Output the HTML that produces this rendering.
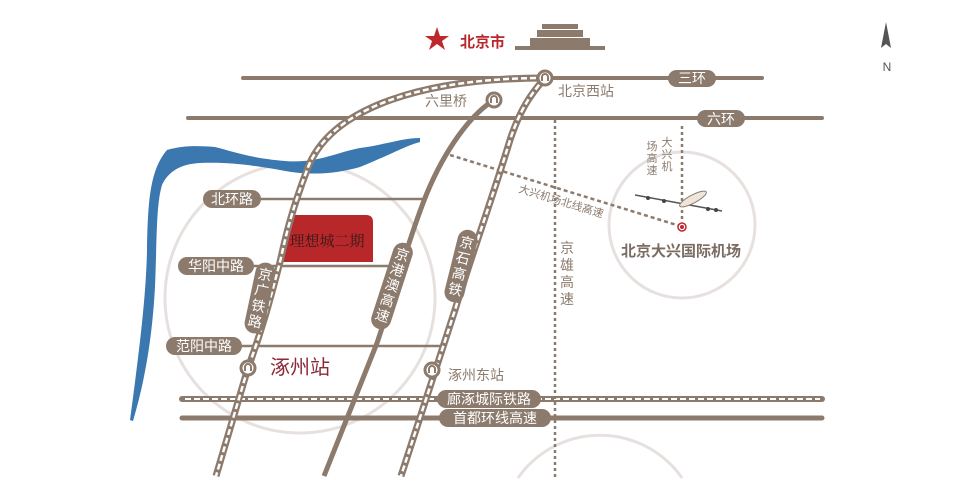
<!DOCTYPE html>
<html><head><meta charset="utf-8"><style>
html,body{margin:0;padding:0;background:#fff;width:960px;height:480px;overflow:hidden;}
svg{display:block;font-family:"Liberation Sans","Noto Sans CJK SC",sans-serif;}
</style></head><body>
<svg width="960" height="480" viewBox="0 0 960 480" xmlns="http://www.w3.org/2000/svg">
<defs>
<g id="stn"><circle r="7" fill="#fff" stroke="#8c7b6d" stroke-width="3"/><path d="M-3,3 V-1 A3,3 0 0 1 3,-1 V3" fill="none" stroke="#8c7b6d" stroke-width="2"/></g>
</defs>
<circle cx="300" cy="298" r="135" fill="none" stroke="#e6e1de" stroke-width="3"/>
<circle cx="682" cy="225" r="73" fill="none" stroke="#e6e1de" stroke-width="3"/>
<path d="M518,478 A100,100 0 0 1 682,478" fill="none" stroke="#e6e1de" stroke-width="3"/>

<path d="M130,420 C138,360 146,300 147,250 C148,200 150,170 167,150 C185,145 200,146 215,147 C235,152 250,158 285,161 C320,164 340,150 367,147 C390,143 405,138 420,138 L420,142 C405,146 390,155 360,167 C335,174 310,176 280,170 C250,165 230,162 200,163 C180,164 168,172 162,185 C156,205 157,240 155,287 C152,340 145,380 133,421 Z" fill="#3b78b0"/>

<line x1="243" y1="78" x2="762" y2="78" stroke="#8c7b6d" stroke-width="4" stroke-linecap="round"/>
<line x1="188" y1="118" x2="822" y2="118" stroke="#8c7b6d" stroke-width="4" stroke-linecap="round"/>
<line x1="205" y1="199" x2="425" y2="199" stroke="#8c7b6d" stroke-width="2.5"/>
<line x1="180" y1="266" x2="400" y2="266" stroke="#8c7b6d" stroke-width="2.5"/>
<line x1="168" y1="346" x2="445" y2="346" stroke="#8c7b6d" stroke-width="2.5"/>
<line x1="182" y1="418" x2="822" y2="418" stroke="#8c7b6d" stroke-width="5" stroke-linecap="round"/>
<line x1="182" y1="399" x2="822" y2="399" stroke="#8c7b6d" stroke-width="6" stroke-linecap="round"/>
<line x1="185" y1="399" x2="820" y2="399" stroke="#fff" stroke-width="2" stroke-dasharray="6,3"/>

<line x1="555" y1="120" x2="555" y2="478" stroke="#8c7b6d" stroke-width="2.5" stroke-dasharray="3,3"/>
<line x1="682" y1="126" x2="682" y2="222" stroke="#8c7b6d" stroke-width="2.5" stroke-dasharray="3,3"/>
<line x1="450" y1="155" x2="680" y2="226" stroke="#8c7b6d" stroke-width="2.5" stroke-dasharray="4,3"/>

<path d="M292,215 H366 Q373,215 373,222 V262 H283 Z" fill="#b82729"/>
<text x="327" y="246" font-size="15" text-anchor="middle" fill="#3a1a1a" font-family="Liberation Serif,'Noto Serif CJK SC',serif">理想城二期</text>

<path d="M545,78 C430,78 330,105 307,170 C290,215 285,240 280,262 C270,300 262,330 248,368 L216,476" fill="none" stroke="#8c7b6d" stroke-width="7"/>
<path d="M545,78 C430,78 330,105 307,170 C290,215 285,240 280,262 C270,300 262,330 248,368 L216,476" fill="none" stroke="#fff" stroke-width="2.5" stroke-dasharray="6,3"/>
<path d="M545,78 C530,95 520,110 510,140 C495,190 470,260 455,310 L401,476" fill="none" stroke="#8c7b6d" stroke-width="7"/>
<path d="M545,78 C530,95 520,110 510,140 C495,190 470,260 455,310 L401,476" fill="none" stroke="#fff" stroke-width="2.5" stroke-dasharray="6,3"/>
<path d="M494,100 C470,115 445,150 427,193 C410,235 395,290 377,343 L324,476" fill="none" stroke="#8c7b6d" stroke-width="5"/>

<use href="#stn" x="545" y="78"/>
<use href="#stn" x="494" y="100"/>
<use href="#stn" x="248" y="368"/>
<use href="#stn" x="432" y="370"/>

<g fill="#8c7b6d">
<rect x="668" y="70" width="48" height="17" rx="8.5"/>
<rect x="697" y="110" width="48" height="17" rx="8.5"/>
<rect x="203" y="190" width="58" height="18" rx="9"/>
<rect x="178" y="257" width="76" height="18" rx="9"/>
<rect x="166" y="337" width="76" height="18" rx="9"/>
<rect x="437" y="390" width="104" height="18" rx="9"/>
<rect x="439" y="409" width="112" height="18" rx="9"/>
<rect x="-10" y="-36" width="20" height="72" rx="10" transform="translate(260,298) rotate(12)"/>
<rect x="-10" y="-45" width="20" height="90" rx="10" transform="translate(392,286) rotate(18)"/>
<rect x="-10" y="-37" width="20" height="74" rx="10" transform="translate(461,266) rotate(14)"/>
</g>
<g fill="#fff" font-size="14">
<text x="692" y="83" text-anchor="middle">三环</text>
<text x="721" y="124" text-anchor="middle">六环</text>
<text x="232" y="204" text-anchor="middle">北环路</text>
<text x="216" y="271" text-anchor="middle">华阳中路</text>
<text x="204" y="351" text-anchor="middle">范阳中路</text>
<text x="489" y="404" text-anchor="middle">廊涿城际铁路</text>
<text x="495" y="423" text-anchor="middle">首都环线高速</text>
<text transform="translate(260,298) rotate(12)" text-anchor="middle" font-size="14"><tspan x="0" y="-19">京</tspan><tspan x="0" y="-3">广</tspan><tspan x="0" y="13">铁</tspan><tspan x="0" y="29">路</tspan></text>
<text transform="translate(392,286) rotate(18)" text-anchor="middle" font-size="14"><tspan x="0" y="-28">京</tspan><tspan x="0" y="-12">港</tspan><tspan x="0" y="4">澳</tspan><tspan x="0" y="20">高</tspan><tspan x="0" y="36">速</tspan></text>
<text transform="translate(461,266) rotate(14)" text-anchor="middle" font-size="14"><tspan x="0" y="-19">京</tspan><tspan x="0" y="-3">石</tspan><tspan x="0" y="13">高</tspan><tspan x="0" y="29">铁</tspan></text>
</g>

<g fill="#8c7b6d" font-size="14">
<text x="558" y="96">北京西站</text>
<text x="425" y="106">六里桥</text>
<text x="448" y="380">涿州东站</text>
<text x="567" y="253" text-anchor="middle"><tspan x="567">京</tspan><tspan x="567" dy="17">雄</tspan><tspan x="567" dy="17">高</tspan><tspan x="567" dy="17">速</tspan></text>
<text font-size="11" text-anchor="middle"><tspan x="667" y="146">大</tspan><tspan x="667" dy="12">兴</tspan><tspan x="667" dy="12">机</tspan><tspan x="652" y="150">场</tspan><tspan x="652" dy="12">高</tspan><tspan x="652" dy="12">速</tspan></text>
<text x="518" y="192" font-size="11" transform="rotate(17 518 192)">大兴机场北线高速</text>
<text x="681" y="256" text-anchor="middle" font-size="15" font-weight="bold" fill="#7a6c62">北京大兴国际机场</text>
</g>
<text x="270" y="374" font-size="20" fill="#8c2a3a">涿州站</text>

<circle cx="682" cy="227" r="4" fill="#fff" stroke="#c0272d" stroke-width="1.5"/>
<circle cx="682" cy="227" r="2" fill="#c0272d"/>
<g>
<line x1="635" y1="195" x2="722" y2="211" stroke="#555" stroke-width="1.5"/>
<ellipse cx="693" cy="199" rx="15" ry="4" transform="rotate(-28 693 199)" fill="#eee6da" stroke="#8c7b6d" stroke-width="1"/>
<circle cx="648" cy="198" r="2" fill="#444"/><circle cx="664" cy="201" r="2" fill="#444"/>
<circle cx="708" cy="209" r="2" fill="#444"/><circle cx="716" cy="210" r="2" fill="#444"/>
</g>

<polygon points="437,27 440,36 449,36 442,41 445,50 437,44 429,50 432,41 425,36 434,36" fill="#c0272d"/>
<text x="460" y="47" font-size="15" font-weight="bold" fill="#b8282a">北京市</text>
<g fill="#8c7b6d">
<rect x="515" y="46" width="90" height="4"/>
<rect x="530" y="38" width="60" height="8"/>
<rect x="537" y="30" width="46" height="7"/>
<rect x="542" y="24" width="36" height="5"/>
</g>
<polygon points="886,22 881,48 886,44 891,48" fill="#555"/>
<text x="887" y="71" font-size="12" text-anchor="middle" fill="#555">N</text>
</svg>
</body></html>
